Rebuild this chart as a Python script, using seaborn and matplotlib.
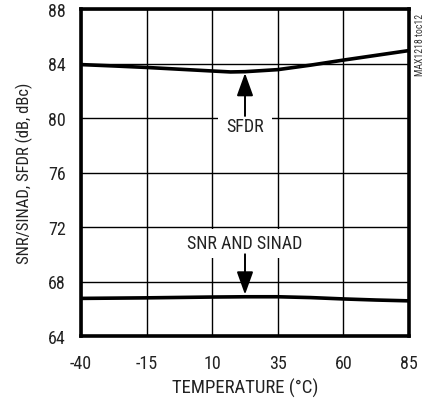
import matplotlib
matplotlib.use("Agg")
import matplotlib.pyplot as plt
import seaborn as sns
import pandas as pd

temps = [-40, -27.5, -15, -2.5, 10, 17, 22.5, 35, 47.5, 60, 72.5, 85]
sfdr = [83.92, 83.82, 83.71, 83.58, 83.45, 83.38, 83.40, 83.55, 83.88, 84.25, 84.60, 84.95]
snr = [66.76, 66.78, 66.80, 66.83, 66.86, 66.87, 66.88, 66.88, 66.82, 66.72, 66.64, 66.58]

x_ticks = [-40, -15, 10, 35, 60, 85]
y_ticks = [64, 68, 72, 76, 80, 84, 88]

sns.set_style("white")
plt.rcParams['font.family'] = ['Roboto Condensed', 'DejaVu Sans']

fig = plt.figure(figsize=(4.31, 4.02), dpi=100)
ax = fig.add_axes([81/431, 1-337/402, 328/431, 327/402])

df = pd.DataFrame({"t": temps + temps,
                   "v": sfdr + snr,
                   "s": ["SFDR"] * len(temps) + ["SNR"] * len(temps)})
sns.lineplot(data=df, x="t", y="v", hue="s", palette=["black", "black"],
             linewidth=2.6, legend=False, ax=ax, zorder=3)

ax.set_xlim(-40, 85)
ax.set_ylim(64, 88)
ax.set_xticks(x_ticks)
ax.set_yticks(y_ticks)
ax.set_xticklabels([str(v) for v in x_ticks], fontsize=13, color="#222222")
ax.set_yticklabels([str(v) for v in y_ticks], fontsize=13, color="#222222")
ax.grid(True, color="black", linewidth=1.0)
ax.set_axisbelow(True)
for sp in ax.spines.values():
    sp.set_linewidth(2.6)
    sp.set_color("black")
ax.tick_params(axis="x", length=0, pad=13)
ax.tick_params(axis="y", length=0, pad=11)
ax.set_xlabel("TEMPERATURE (°C)", fontsize=13.5, color="#222222")
ax.set_ylabel("SNR/SINAD, SFDR (dB, dBc)", fontsize=12, color="#222222")
ax.xaxis.set_label_coords(0.5, -0.128)
ax.yaxis.set_label_coords(-0.146, 0.5)

arrow = dict(arrowstyle="-|>,head_length=1.0,head_width=0.36", color="black",
             lw=1.4, mutation_scale=14, shrinkA=0, shrinkB=0)
ax.text(22.5, 79.4, "SFDR", ha="center", va="center", fontsize=13, color="#222222",
        bbox=dict(facecolor="white", edgecolor="none", boxstyle="square,pad=0.45"), zorder=4)
ax.annotate("", xy=(22.5, 83.3), xytext=(22.5, 80.15), arrowprops=arrow, zorder=5)

ax.text(22.5, 70.8, "SNR AND SINAD", ha="center", va="center", fontsize=13, color="#222222",
        bbox=dict(facecolor="white", edgecolor="none", boxstyle="square,pad=0.3"), zorder=4)
ax.annotate("", xy=(22.5, 67.04), xytext=(22.5, 70.0), arrowprops=arrow, zorder=5)

fig.text(420/431, 1-45/402, "MAX1218 toc12", rotation=90, fontsize=7,
         ha="center", va="center", color="#333333")

fig.savefig("out.png", dpi=100)
